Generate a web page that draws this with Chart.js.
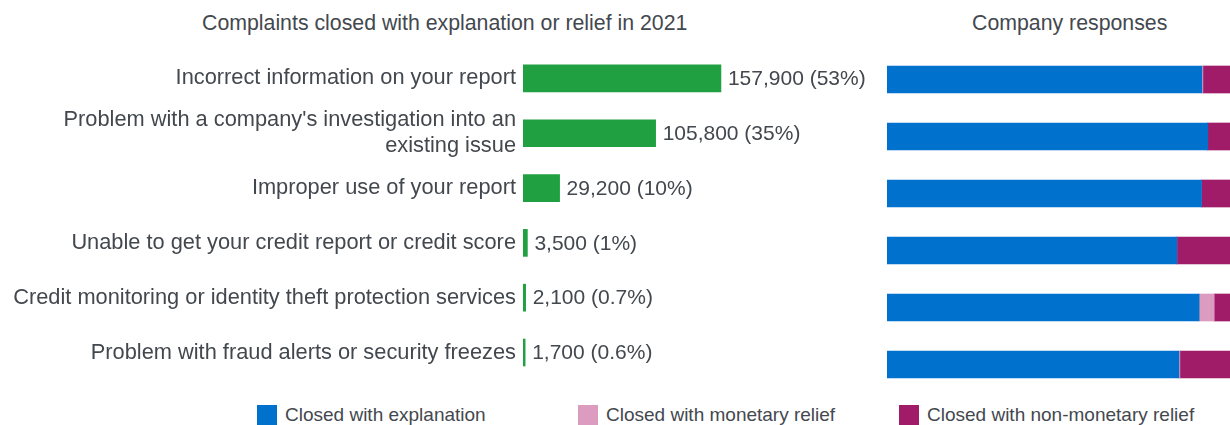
<!DOCTYPE html>
<html>
<head>
<meta charset="utf-8">
<script src="https://cdn.jsdelivr.net/npm/chart.js@4.4.1/dist/chart.umd.min.js"></script>
<style>
  body { margin: 0; background: #fff; font-family: "Liberation Sans", Arial, sans-serif; color: #43484e; }
  #wrap { position: relative; width: 1230px; height: 425px; overflow: hidden; }
  canvas { position: absolute; top: 0; }
  .title { position: absolute; top: 11px; font-size: 21.3px; line-height: 24px; white-space: nowrap; }
  .leg { position: absolute; top: 405px; font-size: 19px; line-height: 20px; white-space: nowrap; }
  .leg span { display: inline-block; width: 20px; height: 20px; vertical-align: top; margin-right: 8px; }
</style>
</head>
<body>
<div id="wrap">
  <div class="title" style="left:202px">Complaints closed with explanation or relief in 2021</div>
  <div class="title" style="left:972px">Company responses</div>
  <canvas id="left" width="880" height="400" style="left:0"></canvas>
  <canvas id="right" width="350" height="400" style="left:880px"></canvas>
  <div id="legend"></div>
</div>
<script>
const categories = [
  "Incorrect information on your report",
  ["Problem with a company's investigation into an", "existing issue"],
  "Improper use of your report",
  "Unable to get your credit report or credit score",
  "Credit monitoring or identity theft protection services",
  "Problem with fraud alerts or security freezes"
];
const complaints = [157900, 105800, 29200, 3500, 2100, 1700];
const shares = ["53%", "35%", "10%", "1%", "0.7%", "0.6%"];

// company responses, percent of each issue
const responseNames = ["Closed with explanation", "Closed with monetary relief", "Closed with non-monetary relief"];
const explanation = [91.8, 93.5, 91.7, 84.5, 91.0, 85.1];
const monetary = [0.3, 0, 0, 0, 4.4, 0.3];
const nonMonetary = [7.9, 6.5, 8.3, 15.5, 4.6, 14.6];

const colors = ["#0072ce", "#dc9cbf", "#a01b68"];
const green = "#20a040";
const textColor = "#43484e";
const fontFamily = "'Liberation Sans', Arial, sans-serif";

// value labels to the right of the green bars
const valueLabels = {
  id: "valueLabels",
  afterDatasetsDraw(chart) {
    const ctx = chart.ctx;
    const meta = chart.getDatasetMeta(0);
    ctx.save();
    ctx.font = "21px " + fontFamily;
    ctx.fillStyle = textColor;
    ctx.textBaseline = "middle";
    meta.data.forEach((bar, i) => {
      const txt = complaints[i].toLocaleString("en-US") + " (" + shares[i] + ")";
      ctx.fillText(txt, bar.x + 7, bar.y + 1);
    });
    ctx.restore();
  }
};

new Chart(document.getElementById("left"), {
  type: "bar",
  data: {
    labels: categories,
    datasets: [{ data: complaints, backgroundColor: green, borderWidth: 0, barThickness: 27 }]
  },
  options: {
    indexAxis: "y",
    responsive: false,
    animation: false,
    layout: { padding: { top: 51, bottom: 7, right: 6, left: 0 } },
    plugins: { legend: { display: false }, tooltip: { enabled: false } },
    scales: {
      x: { display: false, min: 0, max: 280000 },
      y: {
        grid: { display: false, drawTicks: false },
        border: { display: false },
        ticks: { color: textColor, font: { family: fontFamily, size: 21.8, lineHeight: 1.2 }, padding: 7, autoSkip: false },
        afterFit(scale) { scale.width = 523; }
      }
    }
  },
  plugins: [valueLabels]
});

new Chart(document.getElementById("right"), {
  type: "bar",
  data: {
    labels: categories,
    datasets: [
      { label: responseNames[0], data: explanation, backgroundColor: colors[0] },
      { label: responseNames[1], data: monetary, backgroundColor: colors[1] },
      { label: responseNames[2], data: nonMonetary, backgroundColor: colors[2] }
    ].map(d => ({ ...d, borderWidth: 0, barThickness: 27 }))
  },
  options: {
    indexAxis: "y",
    responsive: false,
    animation: false,
    layout: { padding: { top: 51, bottom: 7, left: 7, right: 0 } },
    plugins: { legend: { display: false }, tooltip: { enabled: false } },
    scales: {
      x: { display: false, stacked: true, min: 0, max: 100 },
      y: { display: false, stacked: true }
    }
  }
});

// legend along the bottom
const legend = document.getElementById("legend");
responseNames.forEach((name, i) => {
  const d = document.createElement("div");
  d.className = "leg";
  d.style.left = (257 + i * 321) + "px";
  d.innerHTML = '<span style="background:' + colors[i] + '"></span>' + name;
  legend.appendChild(d);
});
</script>
</body>
</html>
